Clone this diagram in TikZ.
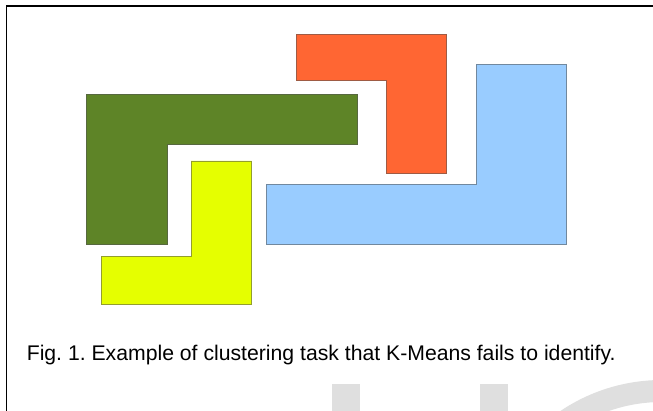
\documentclass[tikz,border=0pt]{standalone}
\usepackage{fontspec}
\setmainfont{Liberation Sans}
\definecolor{olivegreen}{HTML}{5E8427}
\definecolor{tomato}{HTML}{FF6633}
\definecolor{skyblue}{HTML}{99CCFF}
\definecolor{lemon}{HTML}{E5FF00}
\frenchspacing
\begin{document}
\begin{tikzpicture}[x=1pt, y=-1pt,
  piece/.style={fill=#1, draw=#1!55!gray!80!black, line width=0.8pt, line join=miter},
  wmark/.style={gray!25}]
\useasboundingbox (0,0) rectangle (653,411);
\begin{scope}
  \clip (0,0) rectangle (653,411);
  \fill[wmark] (331.7,384) rectangle (360,411);
  \fill[wmark] (480,384) rectangle (508.3,411);
  \draw[wmark, line width=22pt] (662,562) circle (171pt);
\end{scope}
\draw[line width=1.5pt] (6.5,411) -- (6.5,6) -- (653,6);
% the four L-shaped clusters
\draw[piece=olivegreen] (86.5,94.5) -- (357,94.5) -- (357,144.3) -- (167.7,144.3)
  -- (167.7,244.3) -- (86.5,244.3) -- cycle;
\draw[piece=tomato] (296.7,34.7) -- (446.7,34.7) -- (446.7,173.7) -- (386.7,173.7)
  -- (386.7,80.7) -- (296.7,80.7) -- cycle;
\draw[piece=skyblue] (476.7,64.3) -- (566.7,64.3) -- (566.7,244) -- (266.7,244)
  -- (266.7,184.7) -- (476.7,184.7) -- cycle;
\draw[piece=lemon] (191,161) -- (251.7,161) -- (251.7,304) -- (101,304)
  -- (101,256.7) -- (191,256.7) -- cycle;
\node[anchor=base west, inner sep=0pt, font=\fontsize{21.2}{24}\selectfont] (caption)
  at (26.6,361) {Fig. 1. Example of clustering task that K-Means fails to identify.};
\end{tikzpicture}
\end{document}
